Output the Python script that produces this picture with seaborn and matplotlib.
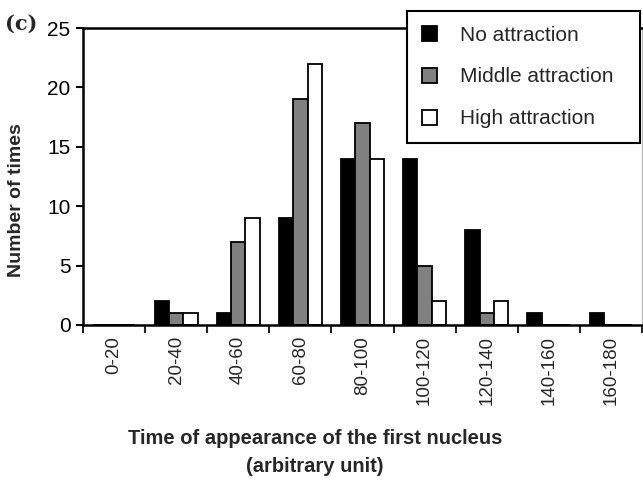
import matplotlib
matplotlib.use("Agg")
import matplotlib.pyplot as plt
import seaborn as sns
import pandas as pd

categories = ["0-20", "20-40", "40-60", "60-80", "80-100", "100-120", "120-140", "140-160", "160-180"]
no_attraction = [0, 2, 1, 9, 14, 14, 8, 1, 1]
middle_attraction = [0, 1, 7, 19, 17, 5, 1, 0, 0]
high_attraction = [0, 1, 9, 22, 14, 2, 2, 0, 0]
series_names = ["No attraction", "Middle attraction", "High attraction"]
series_colors = ["#000000", "#808080", "#ffffff"]

rows = []
for name, vals in zip(series_names, [no_attraction, middle_attraction, high_attraction]):
    for c, v in zip(categories, vals):
        rows.append({"cat": c, "series": name, "value": v})
df = pd.DataFrame(rows)

sns.set_style("ticks")
plt.rcParams["font.family"] = ["Liberation Sans", "DejaVu Sans"]

W, H = 643, 486
fig = plt.figure(figsize=(W / 100, H / 100), dpi=100)
ax = fig.add_axes([83 / W, 1 - 325 / H, (642 - 83) / W, (325 - 28) / H])

sns.barplot(data=df, x="cat", y="value", hue="series", order=categories,
            hue_order=series_names, palette=series_colors, edgecolor="black",
            linewidth=1.3, width=0.69, gap=0, ax=ax, saturation=1, legend=True)

ax.set_ylim(0, 25)
ax.set_xlim(-0.5, len(categories) - 0.5)
ax.set_yticks([0, 5, 10, 15, 20, 25])
ax.tick_params(axis="y", labelsize=15, length=5, width=1.5, direction="out", colors="black", pad=4)
ax.set_xticks(range(len(categories)))
ax.set_xticklabels(categories, rotation=90, fontsize=13.5)
ax.tick_params(axis="x", length=0, pad=8)
# category boundary ticks
ax.set_xticks([i - 0.5 for i in range(len(categories) + 1)], minor=True)
ax.tick_params(axis="x", which="minor", length=6, width=1.5, direction="out")
for s in ["left", "bottom", "top"]:
    ax.spines[s].set_visible(True)
    ax.spines[s].set_linewidth(1.8)
    ax.spines[s].set_color("black")
ax.spines["right"].set_visible(True)
ax.spines["right"].set_color("#bbbbbb")
ax.spines["right"].set_linewidth(1)
ax.set_xlabel("")
ax.set_ylabel("")

fig.text(17 / W, 1 - 200 / H, "Number of times", rotation=90, ha="center", va="center",
         fontsize=14, fontweight="bold")
fig.text(315 / W, 1 - 438 / H, "Time of appearance of the first nucleus", ha="center",
         va="center", fontsize=14.5, fontweight="bold")
fig.text(315 / W, 1 - 466 / H, "(arbitrary unit)", ha="center", va="center",
         fontsize=14.5, fontweight="bold")
fig.text(5 / W, 1 - 24 / H, "(c)", ha="left", va="center", fontsize=15,
         fontweight="bold", family="DejaVu Serif")

leg = ax.legend(loc="upper left",
                bbox_to_anchor=(407 / W, 1 - 144 / H, (640 - 407) / W, (144 - 11) / H),
                bbox_transform=fig.transFigure, mode="expand", frameon=True, fancybox=False,
                fontsize=15, handlelength=0.75, handleheight=0.75, labelspacing=1.1,
                borderpad=0.7, handletextpad=1.1, borderaxespad=0)
leg.get_frame().set_edgecolor("black")
leg.get_frame().set_linewidth(1.5)
leg.get_frame().set_facecolor("white")
leg.get_frame().set_alpha(1)

fig.savefig("out.png", dpi=100)
